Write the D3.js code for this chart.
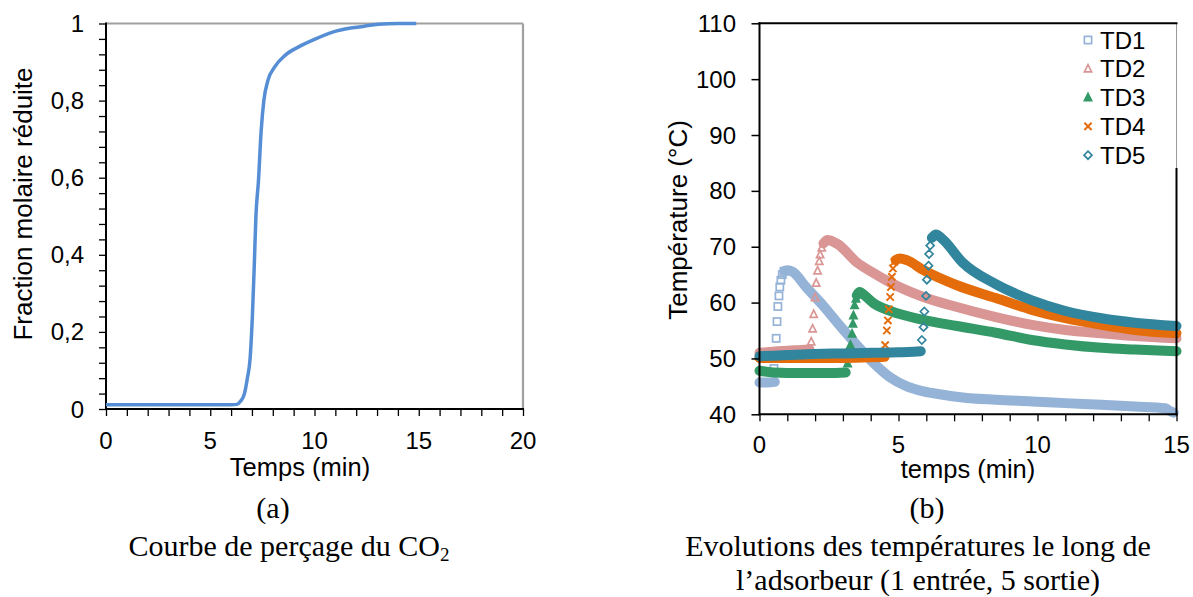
<!DOCTYPE html>
<html><head><meta charset="utf-8">
<script src="https://cdn.jsdelivr.net/npm/d3@7"></script>
<style>
body{margin:0;background:#fff}
svg{display:block}
text{font-family:"Liberation Sans",Arial,sans-serif;fill:#000}
.serif{font-family:"Liberation Serif","Times New Roman",serif}
</style>
</head><body>
<svg id="c" width="1193" height="597"></svg>
<script>
// ---------- DATA ----------
// (a) breakthrough curve
const co2Time = [0, 1, 2, 3, 4, 5, 6, 6.28, 6.45, 6.64, 6.78, 6.91, 7.02, 7.11, 7.19, 7.31, 7.44, 7.57, 7.77, 8.1, 8.6, 9.26, 10.08, 11.07, 12.4, 13.06, 14.0, 14.88];
const co2Frac = [0.011, 0.011, 0.011, 0.011, 0.011, 0.011, 0.011, 0.012, 0.02, 0.04, 0.08, 0.13, 0.24, 0.37, 0.50, 0.59, 0.72, 0.80, 0.853, 0.888, 0.918, 0.94, 0.961, 0.981, 0.993, 0.998, 1.0, 1.0];
const aXTicks = [0, 5, 10, 15, 20];
const aYTicks = [0, 0.2, 0.4, 0.6, 0.8, 1];
const aYTickLabels = ["0", "0,2", "0,4", "0,6", "0,8", "1"];

// (b) temperatures
const bXTicks = [0, 5, 10, 15];
const bYTicks = [40, 50, 60, 70, 80, 90, 100, 110];
const seriesNames = ["TD1", "TD2", "TD3", "TD4", "TD5"];

const td1BaseT = [0, 0.3, 0.55];
const td1BaseV = [45.7, 45.7, 45.8];
const td1RiseT = [0.52, 0.6, 0.63, 0.66, 0.7, 0.73, 0.77, 0.82, 0.88];
const td1RiseV = [48.2, 53.6, 56.6, 59.3, 61.2, 62.8, 64.0, 65.0, 65.6];
const td1DecT = [0.9, 1.0, 1.2, 1.67, 2.3, 2.9, 3.5, 4.1, 4.7, 5.3, 5.9, 6.6, 7.3, 8.5, 9.8, 11.0, 12.3, 13.5, 14.6, 14.75, 14.9];
const td1DecV = [65.7, 65.8, 65.5, 62.8, 59.4, 55.8, 52.4, 49.2, 46.6, 45.0, 44.1, 43.5, 43.0, 42.6, 42.3, 42.0, 41.7, 41.4, 41.1, 40.6, 40.3];

const td2BaseT = [0, 0.5, 1.0, 1.5, 1.8];
const td2BaseV = [51.0, 51.2, 51.4, 51.5, 51.6];
const td2RiseT = [1.86, 1.91, 1.95, 2.0, 2.04, 2.09, 2.15, 2.18, 2.24];
const td2RiseV = [53.0, 55.3, 57.9, 60.9, 63.5, 65.7, 67.4, 68.6, 69.8];
const td2DecT = [2.3, 2.45, 2.8, 3.5, 4.1, 4.7, 5.9, 7.1, 8.5, 9.8, 11.0, 12.3, 13.5, 15];
const td2DecV = [70.6, 71.2, 70.5, 67.2, 65.3, 63.6, 61.0, 59.2, 57.4, 56.0, 55.1, 54.5, 54.0, 53.6];

const td3BaseT = [0, 0.5, 1.5, 2.5, 3.1];
const td3BaseV = [47.8, 47.5, 47.4, 47.4, 47.5];
const td3RiseT = [3.17, 3.23, 3.27, 3.33, 3.36, 3.38, 3.42, 3.47];
const td3RiseV = [49.1, 50.9, 52.4, 54.4, 56.2, 57.7, 59.5, 60.7];
const td3DecT = [3.5, 3.6, 3.8, 4.1, 4.7, 5.9, 7.1, 8.5, 9.8, 11.0, 12.3, 13.5, 15];
const td3DecV = [61.3, 61.9, 61.2, 59.9, 58.5, 56.9, 55.8, 54.6, 53.3, 52.5, 51.9, 51.6, 51.3];

const td4BaseT = [0, 1, 2, 3, 4, 4.5];
const td4BaseV = [50.1, 50.1, 50.1, 50.1, 50.2, 50.3];
const td4RiseT = [4.52, 4.58, 4.62, 4.65, 4.7, 4.73, 4.76, 4.8, 4.85];
const td4RiseV = [52.4, 55.0, 56.8, 58.8, 61.0, 62.8, 64.6, 66.1, 67.3];
const td4DecT = [4.9, 5.05, 5.3, 5.9, 7.1, 8.5, 9.8, 11.0, 12.3, 13.5, 15];
const td4DecV = [67.6, 67.9, 67.6, 65.8, 63.1, 60.8, 58.7, 57.2, 56.0, 55.1, 54.5];

const td5BaseT = [0, 1, 2, 3, 4, 5, 5.8];
const td5BaseV = [50.4, 50.6, 50.8, 50.9, 51.0, 51.1, 51.3];
const td5RiseT = [5.84, 5.9, 5.93, 5.99, 6.02, 6.08, 6.1, 6.14];
const td5RiseV = [53.3, 55.6, 58.4, 61.2, 64.1, 66.6, 68.7, 70.2];
const td5DecT = [6.2, 6.35, 6.6, 7.3, 8.5, 9.8, 11.0, 12.3, 13.5, 15];
const td5DecV = [71.6, 72.2, 71.3, 67.2, 63.3, 60.4, 58.5, 57.2, 56.4, 55.8];

const seriesColors = ["#95b3d7", "#d99694", "#339966", "#e46c0a", "#31859c"];
const seriesMarkers = ["square", "triangle", "triangleFilled", "cross", "diamond"];

// ---------- DRAW ----------
const svg = d3.select("#c");
const zip = (t, v) => t.map((d, i) => [d, v[i]]);

// ===== Chart (a) =====
const ax = d3.scaleLinear().domain([0, 20]).range([106, 523]);
const ay = d3.scaleLinear().domain([0, 1]).range([409, 23.5]);
const ga = svg.append("g");

ga.append("g").attr("transform", "translate(106,0)")
  .call(d3.axisLeft(ay).tickValues(d3.range(0, 1.0001, 0.04)).tickSize(7).tickSizeOuter(0).tickFormat(""))
  .call(g => g.select(".domain").remove())
  .call(g => g.selectAll("line").attr("stroke", "#000").attr("stroke-width", 1.3));
ga.append("g").attr("transform", "translate(0,409)")
  .call(d3.axisBottom(ax).tickValues(d3.range(0, 21, 1)).tickSize(7).tickSizeOuter(0).tickFormat(""))
  .call(g => g.select(".domain").remove())
  .call(g => g.selectAll("line").attr("stroke", "#000").attr("stroke-width", 1.3));
ga.selectAll(".ayl").data(aYTicks).enter().append("text")
  .attr("x", 84).attr("y", d => ay(d) + 8.5).attr("text-anchor", "end")
  .attr("font-size", 24).text((d, i) => aYTickLabels[i]);
ga.selectAll(".axl").data(aXTicks).enter().append("text")
  .attr("x", d => ax(d)).attr("y", 449).attr("text-anchor", "middle")
  .attr("font-size", 24).text(d => d);
ga.append("line").attr("x1", 106).attr("x2", 523).attr("y1", 23.5).attr("y2", 23.5).attr("stroke", "#a0a0a0").attr("stroke-width", 2.2);
ga.append("line").attr("x1", 523).attr("x2", 523).attr("y1", 23.5).attr("y2", 409).attr("stroke", "#a0a0a0").attr("stroke-width", 2.2);
ga.append("line").attr("x1", 106).attr("x2", 106).attr("y1", 22.5).attr("y2", 410).attr("stroke", "#000").attr("stroke-width", 2);
ga.append("line").attr("x1", 105).attr("x2", 524).attr("y1", 409).attr("y2", 409).attr("stroke", "#000").attr("stroke-width", 2);
ga.append("path").datum(zip(co2Time, co2Frac))
  .attr("fill", "none").attr("stroke", "#558ed5").attr("stroke-width", 3.5)
  .attr("stroke-linejoin", "round")
  .attr("d", d3.line().x(d => ax(d[0])).y(d => ay(d[1])).curve(d3.curveMonotoneX));
ga.append("text").attr("transform", "translate(32,204) rotate(-90)").attr("text-anchor", "middle")
  .attr("font-size", 26).text("Fraction molaire réduite");
ga.append("text").attr("x", 300).attr("y", 476).attr("text-anchor", "middle")
  .attr("font-size", 25.5).text("Temps (min)");

// ===== Chart (b) =====
const bx = d3.scaleLinear().domain([0, 15]).range([759.5, 1176.5]);
const by = d3.scaleLinear().domain([40, 110]).range([414.3, 23.3]);
const gb = svg.append("g");

const series = [
  {base: zip(td1BaseT, td1BaseV), rise: zip(td1RiseT, td1RiseV), dec: zip(td1DecT, td1DecV)},
  {base: zip(td2BaseT, td2BaseV), rise: zip(td2RiseT, td2RiseV), dec: zip(td2DecT, td2DecV)},
  {base: zip(td3BaseT, td3BaseV), rise: zip(td3RiseT, td3RiseV), dec: zip(td3DecT, td3DecV)},
  {base: zip(td4BaseT, td4BaseV), rise: zip(td4RiseT, td4RiseV), dec: zip(td4DecT, td4DecV)},
  {base: zip(td5BaseT, td5BaseV), rise: zip(td5RiseT, td5RiseV), dec: zip(td5DecT, td5DecV)}
];

function marker(g, type, color, x, y) {
  const s = 3.6;
  if (type === "square") {
    g.append("rect").attr("x", x - s).attr("y", y - s).attr("width", 2 * s).attr("height", 2 * s)
      .attr("fill", "none").attr("stroke", color).attr("stroke-width", 1.7);
  } else if (type === "triangle" || type === "triangleFilled") {
    const pts = [[x, y - s - 0.5], [x + s, y + s - 0.5], [x - s, y + s - 0.5]];
    g.append("path").attr("d", "M" + pts.join("L") + "Z")
      .attr("fill", type === "triangleFilled" ? color : "none")
      .attr("stroke", color).attr("stroke-width", 1.7);
  } else if (type === "cross") {
    g.append("path").attr("d", `M${x - s},${y - s}L${x + s},${y + s}M${x - s},${y + s}L${x + s},${y - s}`)
      .attr("stroke", color).attr("stroke-width", 2);
  } else if (type === "diamond") {
    g.append("path").attr("d", `M${x},${y - s - 0.4}L${x + s + 0.4},${y}L${x},${y + s + 0.4}L${x - s - 0.4},${y}Z`)
      .attr("fill", "none").attr("stroke", color).attr("stroke-width", 1.7);
  }
}

const band = d3.line().x(d => bx(d[0])).y(d => by(d[1])).curve(d3.curveMonotoneX);
const plotG = gb.append("g");
series.forEach((s, i) => {
  const c = seriesColors[i];
  [s.base, s.dec].forEach(arr => {
    plotG.append("path").datum(arr).attr("fill", "none").attr("stroke", c)
      .attr("stroke-width", 10).attr("stroke-linecap", "round").attr("stroke-linejoin", "round")
      .attr("d", band);
  });
  s.rise.forEach(p => marker(plotG, seriesMarkers[i], c, bx(p[0]), by(p[1])));
});

gb.append("rect").attr("x", 1075).attr("y", 24).attr("width", 101).attr("height", 144).attr("fill", "#fff");
gb.append("line").attr("x1", 1176.5).attr("x2", 1176.5).attr("y1", 23).attr("y2", 168).attr("stroke", "#9a9a9a").attr("stroke-width", 1);
seriesNames.forEach((n, i) => {
  const ly = 40 + i * 28.8;
  marker(gb, seriesMarkers[i], seriesColors[i], 1088, ly);
  gb.append("text").attr("x", 1100).attr("y", ly + 8.5).attr("font-size", 24).text(n);
});

gb.append("g").attr("transform", "translate(759.5,0)")
  .call(d3.axisLeft(by).tickValues(bYTicks).tickSize(8).tickSizeOuter(0).tickFormat(""))
  .call(g => g.select(".domain").remove())
  .call(g => g.selectAll("line").attr("stroke", "#000").attr("stroke-width", 1.5));
gb.append("g").attr("transform", "translate(0,414.3)")
  .call(d3.axisBottom(bx).tickValues(d3.range(0, 16, 1)).tickSize(7).tickSizeOuter(0).tickFormat(""))
  .call(g => g.select(".domain").remove())
  .call(g => g.selectAll("line").attr("stroke", "#000").attr("stroke-width", 1.3));
gb.selectAll(".byl").data(bYTicks).enter().append("text")
  .attr("x", 736).attr("y", d => by(d) + 8.5).attr("text-anchor", "end")
  .attr("font-size", 24).text(d => d);
gb.selectAll(".bxl").data(bXTicks).enter().append("text")
  .attr("x", d => bx(d)).attr("y", 453).attr("text-anchor", "middle")
  .attr("font-size", 24).text(d => d);
gb.append("line").attr("x1", 758.5).attr("x2", 1177.5).attr("y1", 23.3).attr("y2", 23.3).attr("stroke", "#000").attr("stroke-width", 2);
gb.append("line").attr("x1", 759.5).attr("x2", 759.5).attr("y1", 22.3).attr("y2", 415.3).attr("stroke", "#000").attr("stroke-width", 2);
gb.append("line").attr("x1", 758.5).attr("x2", 1177.5).attr("y1", 414.3).attr("y2", 414.3).attr("stroke", "#000").attr("stroke-width", 2);
gb.append("line").attr("x1", 1176.5).attr("x2", 1176.5).attr("y1", 168).attr("y2", 415.3).attr("stroke", "#000").attr("stroke-width", 2);
gb.append("text").attr("transform", "translate(687,220) rotate(-90)").attr("text-anchor", "middle")
  .attr("font-size", 26).text("Température (°C)");
gb.append("text").attr("x", 968).attr("y", 478).attr("text-anchor", "middle")
  .attr("font-size", 25.5).text("temps (min)");

// ===== Captions =====
const cap = svg.append("g");
cap.append("text").attr("class", "serif").attr("x", 273).attr("y", 518).attr("text-anchor", "middle").attr("font-size", 30).text("(a)");
const c1 = cap.append("text").attr("class", "serif").attr("x", 289).attr("y", 556).attr("text-anchor", "middle").attr("font-size", 30);
c1.append("tspan").text("Courbe de perçage du CO");
c1.append("tspan").attr("font-size", 19).attr("dy", 5).text("2");
cap.append("text").attr("class", "serif").attr("x", 927).attr("y", 518).attr("text-anchor", "middle").attr("font-size", 30).text("(b)");
cap.append("text").attr("class", "serif").attr("x", 918).attr("y", 556).attr("text-anchor", "middle").attr("font-size", 30).text("Evolutions des températures le long de");
cap.append("text").attr("class", "serif").attr("x", 918).attr("y", 590).attr("text-anchor", "middle").attr("font-size", 30).text("l’adsorbeur (1 entrée, 5 sortie)");
</script>
</body></html>
